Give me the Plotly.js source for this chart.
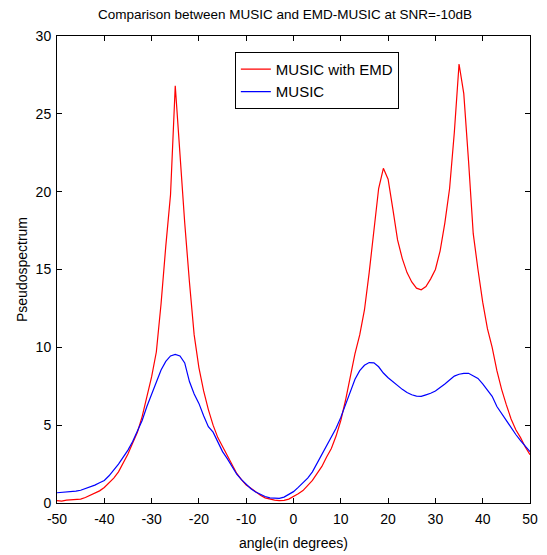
<!DOCTYPE html>
<html>
<head>
<meta charset="utf-8">
<script src="https://cdn.plot.ly/plotly-3.0.1.min.js"></script>
<style>html,body{margin:0;padding:0;background:#fff;}#chart{width:547px;height:555px;}</style>
</head>
<body>
<div id="chart"></div>
<script>
const angles = [];
for (let a = -50; a <= 50; a++) angles.push(a);

const musicEmd = [
  0.15, 0.12, 0.18, 0.2, 0.2, 0.25, 0.35, 0.5, 0.65, 0.78,
  1.0, 1.3, 1.6, 2.0, 2.55, 3.15, 3.85, 4.55, 5.55, 6.8,
  8.1, 9.7, 12.8, 16.5, 19.8, 26.8, 22.3, 18.0, 14.2, 10.8,
  8.7, 7.2, 6.0, 5.0, 4.2, 3.6, 3.0, 2.45, 1.9, 1.5,
  1.15, 0.95, 0.72, 0.5, 0.33, 0.25, 0.18, 0.15, 0.17, 0.25,
  0.4, 0.6, 0.8, 1.1, 1.45, 1.9, 2.35, 2.95, 3.5, 4.3,
  5.3, 6.6, 8.1, 9.6, 10.8, 12.4, 14.8, 17.7, 20.2, 21.5,
  20.8, 18.9, 16.9, 15.7, 14.8, 14.2, 13.8, 13.7, 13.9, 14.4,
  15.0, 16.2, 18.0, 20.2, 23.8, 28.2, 26.3, 22.0, 17.3, 15.0,
  12.9, 11.2, 10.0, 8.5, 7.3, 6.3, 5.4, 4.7, 4.2, 3.6,
  3.1
];

const music = [
  0.66, 0.68, 0.7, 0.73, 0.76, 0.82, 0.92, 1.05, 1.15, 1.3,
  1.45, 1.75, 2.1, 2.5, 2.95, 3.4, 3.95, 4.6, 5.3, 6.2,
  7.0, 7.8, 8.55, 9.1, 9.45, 9.55, 9.45, 9.0, 7.8, 7.0,
  6.4, 5.6, 4.9, 4.55, 3.9, 3.3, 2.85, 2.35, 1.85, 1.5,
  1.2, 0.92, 0.7, 0.55, 0.42, 0.33, 0.3, 0.3, 0.38, 0.55,
  0.73, 1.0, 1.3, 1.6, 2.0, 2.55, 3.1, 3.65, 4.25, 4.8,
  5.5, 6.3, 7.2, 7.95, 8.5, 8.85, 9.02, 9.0, 8.75, 8.35,
  8.05, 7.8, 7.5, 7.3, 7.1, 6.95, 6.87, 6.85, 6.95, 7.05,
  7.2, 7.4, 7.65, 7.9, 8.15, 8.27, 8.33, 8.33, 8.15, 8.0,
  7.65, 7.25, 6.85, 6.2, 5.75, 5.3, 4.8, 4.4, 4.0, 3.65,
  3.3
];

const xTicks = [-50, -40, -30, -20, -10, 0, 10, 20, 30, 40, 50];
const yTicks = [0, 5, 10, 15, 20, 25, 30];

const FONT = '"Liberation Sans", Arial, sans-serif';

const traces = [
  {x: angles, y: musicEmd, type: 'scatter', mode: 'lines', name: 'MUSIC with EMD',
   line: {color: '#ff0000', width: 1.2}},
  {x: angles, y: music, type: 'scatter', mode: 'lines', name: 'MUSIC',
   line: {color: '#0000ff', width: 1.2}}
];

const axisCommon = {
  showline: true, linecolor: '#000', linewidth: 1, mirror: 'ticks',
  ticks: 'inside', ticklen: 5, tickcolor: '#000', tickwidth: 1,
  showgrid: false, zeroline: false,
  tickfont: {family: FONT, size: 14, color: '#000'}
};

const layout = {
  width: 547, height: 555,
  margin: {l: 57, r: 17, t: 36, b: 52},
  paper_bgcolor: '#fff', plot_bgcolor: '#fff',
  font: {family: FONT, size: 14, color: '#000'},
  title: {text: 'Comparison between MUSIC and EMD-MUSIC at SNR=-10dB',
          font: {family: FONT, size: 13.5, color: '#000'},
          x: 0.521, xref: 'container', xanchor: 'center',
          y: 0.975, yref: 'container', yanchor: 'middle'},
  xaxis: Object.assign({}, axisCommon, {
    range: [-50, 50], tickvals: xTicks, ticktext: xTicks.map(String),
    ticklabelstandoff: 3,
    title: {text: 'angle(in degrees)', font: {family: FONT, size: 14, color: '#000'}, standoff: 12}
  }),
  yaxis: Object.assign({}, axisCommon, {
    range: [0, 30], tickvals: yTicks, ticktext: yTicks.map(String),
    ticklabelstandoff: 2,
    title: {text: 'Pseudospectrum', font: {family: FONT, size: 14, color: '#000'}, standoff: 4}
  }),
  showlegend: true,
  legend: {x: 0.376, y: 0.966, xanchor: 'left', yanchor: 'top',
           bgcolor: '#fff', bordercolor: '#000', borderwidth: 1,
           font: {family: FONT, size: 15, color: '#000'},
           tracegroupgap: 0}
};

Plotly.newPlot('chart', traces, layout, {displayModeBar: false, responsive: false});
</script>
</body>
</html>
